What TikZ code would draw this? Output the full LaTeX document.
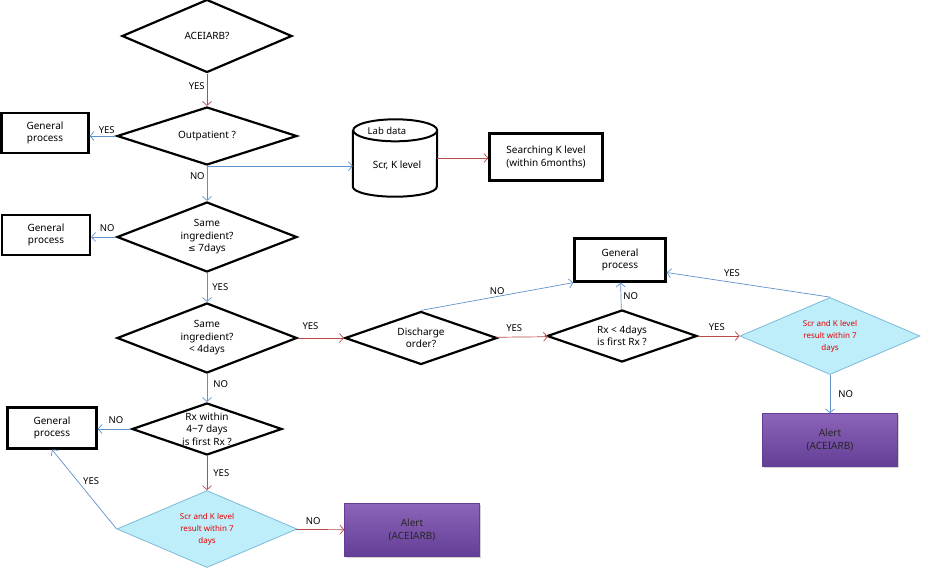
\documentclass[tikz,border=0pt]{standalone}
\usepackage{fontspec}
\setmainfont{Noto Sans}
\newfontfamily\symfont{DejaVu Sans}
\usepackage{tikz}
\usetikzlibrary{shapes,shapes.geometric,arrows,arrows.meta,positioning,shadows}

\definecolor{flowblue}{RGB}{95,145,205}
\definecolor{flowred}{RGB}{185,75,75}
\definecolor{chkfill}{RGB}{190,238,249}
\definecolor{chkline}{RGB}{125,185,215}
\definecolor{alerttop}{RGB}{140,100,185}
\definecolor{alertbot}{RGB}{100,62,150}

\begin{document}
\begin{tikzpicture}[
			x=1pt, y=-1pt,
			every node/.style={font=\fontsize{10}{12.5}\selectfont},
			every label/.style={align=center},
			decision/.style={diamond, draw, line width=2.2pt, inner sep=0pt},
			process/.style={rectangle, draw, line width=2.2pt, align=center, inner sep=2pt},
			check/.style={diamond, draw=chkline, fill=chkfill, line width=0.8pt, inner sep=0pt, minimum width=180pt, minimum height=77pt},
			alert/.style={rectangle, top color=alerttop, bottom color=alertbot, draw=alertbot, align=center, text=black!85, minimum width=135pt, minimum height=53pt, drop shadow={shadow xshift=1pt, shadow yshift=-1.5pt, opacity=0.35}},
			redflow/.style={draw=flowred, line width=0.7pt, -{Straight Barb[length=4pt,width=9pt]}},
			blueflow/.style={draw=flowblue, line width=0.7pt, -{Straight Barb[length=4pt,width=9pt]}},
			yn/.style={font=\fontsize{9.5}{11}\selectfont, inner sep=2pt},
			redtext/.style={text=red!90!black, font=\fontsize{8}{12}\selectfont}
			]

			\def\cx{207}

			\useasboundingbox (0,0) rectangle (926,576);

			% main column
			\node[decision, minimum width=170pt, minimum height=73pt, label=center:ACEIARB?] (acei) at (\cx,36) {};
			\node[decision, minimum width=180pt, minimum height=58pt, label=center:Outpatient ?] (outp) at (\cx,136) {};
			\node[process, minimum width=87pt, minimum height=40pt] (gp1) at (45,133) {General\\process};

			% lab data store
			\node[minimum width=84pt, minimum height=77pt, inner sep=0pt] (lab) at (395,158) {};
			\draw[line width=2pt] ([yshift=-11pt]lab.north west) -- ([yshift=10pt]lab.south west)
				arc[start angle=180, end angle=360, x radius=42pt, y radius=10pt]
				-- ([yshift=-11pt]lab.north east)
				arc[start angle=0, end angle=360, x radius=42pt, y radius=11pt];
			\node[font=\fontsize{9.5}{11}\selectfont] (labtitle) at (387,131) {Lab data};
			\node (labtext) at (397,165) {Scr, K level};
			\node[process, minimum width=113pt, minimum height=47pt] (search) at (546,157) {Searching K level\\(within 6months)};

			\node[decision, minimum width=180pt, minimum height=70pt, label=center:Same\\ingredient?\\{\symfont\fontsize{9}{12}\selectfont ≤} 7days] (same7) at (\cx,237) {};
			\node[process, minimum width=88pt, minimum height=40pt] (gp2) at (46,235) {General\\process};
			\node[decision, minimum width=180pt, minimum height=70pt, label=center:Same\\ingredient?\\< 4days] (same4) at (\cx,338) {};

			% discharge branch
			\node[decision, minimum width=152pt, minimum height=53pt, label=center:Discharge\\order?] (disc) at (421,338) {};
			\node[decision, minimum width=150pt, minimum height=52pt, label=center:Rx < 4days\\is first Rx ?] (rx4) at (622,336) {};
			\node[process, minimum width=91pt, minimum height=43pt] (gp3) at (620,260) {General\\process};
			\node[check, label={[redtext]center:Scr and K level\\result within 7\\days}] (chk1) at (830,336) {};
			\node[alert] (alert1) at (830,440) {Alert\\(ACEIARB)};

			% 4~7 days branch
			\node[decision, minimum width=150pt, minimum height=52pt, label=center:Rx within\\4\textasciitilde 7 days\\is first Rx ?] (rx47) at (\cx,429) {};
			\node[process, minimum width=89pt, minimum height=41pt] (gp4) at (52,428) {General\\process};
			\node[check, label={[redtext]center:Scr and K level\\result within 7\\days}] (chk2) at (\cx,529) {};
			\node[alert] (alert2) at (412,530) {Alert\\(ACEIARB)};

			% connectors
			\draw[redflow] (acei) -- (outp) node[yn, pos=0.4, left] {YES};
			\draw[blueflow] (outp.west) -- (outp.west -| gp1.east) node[yn, pos=0.35, above] {YES};
			\draw[blueflow] (outp.south) -- (outp.south -| lab.west);
			\draw[redflow] (lab.east) -- (lab.east -| search.west);
			\draw[blueflow] (outp) -- (same7) node[yn, pos=0.3, left] {NO};
			\draw[blueflow] (same7.west) -- (same7.west -| gp2.east) node[yn, pos=0.35, above=3pt] {NO};
			\draw[blueflow] (same7) -- (same4) node[yn, midway, right=3pt] {YES};
			\draw[redflow] (same4) -- (disc) node[yn, pos=0.27, above=6pt] {YES};
			\draw[redflow] (disc) -- (rx4) node[yn, pos=0.35, above=3pt] {YES};
			\draw[redflow] (rx4) -- (chk1) node[yn, pos=0.45, above=3pt] {YES};
			\draw[blueflow] (disc.north) -- (gp3.south west) node[yn, midway, above] {NO};
			\draw[blueflow] (rx4) -- (gp3) node[yn, midway, right] {NO};
			\draw[blueflow] (chk1.north) -- (gp3.-15) node[yn, pos=0.6, above=3pt] {YES};
			\draw[blueflow] (chk1) -- (alert1) node[yn, midway, right=6pt] {NO};
			\draw[blueflow] (same4) -- (rx47) node[yn, pos=0.35, right=4pt] {NO};
			\draw[blueflow] (rx47.west) -- (rx47.west -| gp4.east) node[yn, pos=0.45, above=3pt] {NO};
			\draw[redflow] (rx47) -- (chk2) node[yn, midway, right=4pt] {YES};
			\draw[blueflow] (chk2.west) -- (gp4.south) node[yn, pos=0.6, right=3pt] {YES};
			\draw[redflow] (chk2) -- (alert2) node[yn, pos=0.35, above=3pt] {NO};

			\end{tikzpicture}
\end{document}
